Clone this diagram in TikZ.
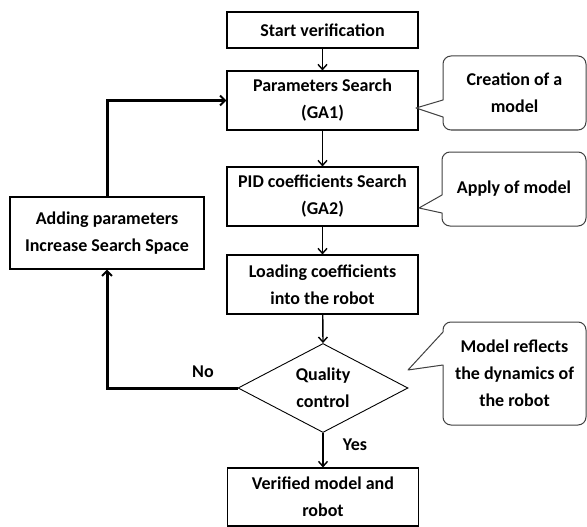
\documentclass[tikz,border=0pt]{standalone}
\usepackage{fontspec}
\setmainfont{Carlito}
\usetikzlibrary{arrows.meta,shapes.geometric}
\begin{document}
\begin{tikzpicture}[x=1pt,y=-1pt,
  every node/.style={font=\fontsize{18}{27}\selectfont\bfseries, align=center, inner sep=0pt},
  procbox/.style={draw, line width=1.1pt, minimum width=191pt},
  decbox/.style={diamond, draw, line width=0.9pt, minimum width=170pt, minimum height=89pt, aspect=1.91},
  flow/.style={line width=1.4pt, -{Straight Barb[length=5pt,width=9pt,line width=1.4pt]}},
  loopline/.style={line width=3pt, -{Straight Barb[length=5pt,width=10pt,line width=2pt]}},
  callline/.style={draw=black!75, line width=1pt, line join=round},
  lbl/.style={font=\fontsize{18}{27}\selectfont\bfseries}
]
\useasboundingbox (0,0) rectangle (587,527);
\node[procbox, minimum height=36pt] (start) at (322.5,30) {Start verification};
\node[procbox, minimum height=59pt] (params) at (322.5,100.5) {Parameters Search\\(GA1)};
\node[procbox, minimum height=59pt] (pid) at (322.5,196.5) {PID coefficients Search\\(GA2)};
\node[procbox, minimum height=59pt] (load) at (322.5,284.5) {Loading coefficients\\into the robot};
\node[decbox] (qc) at (323,388) {Quality\\control};
\node[procbox, minimum height=58pt] (ver) at (323,497) {Verified model and\\robot};
\node[procbox, minimum width=194pt, minimum height=72pt] (add) at (107,233) {Adding parameters\\Increase Search Space};

\draw[flow] (start) -- (params);
\draw[flow] (params) -- (pid);
\draw[flow] (pid) -- (load);
\draw[flow] (load) -- (qc.north);
\draw[flow] (qc.south) -- (ver);
\draw[loopline] (qc.west) -| (add.south);
\draw[loopline] (add.north) |- (params.west);
\node[lbl] (no) at (203,372) {No};
\node[lbl] (yes) at (355,445) {Yes};

% callouts
\draw[callline] (443,100) [rounded corners=8pt] -- (443,56) -- (586,56) -- (586,130) -- (443,130) [sharp corners] -- (443,117) -- (416,108) -- cycle;
\node (c1) at (514.5,93) {Creation of a\\model};
\draw[callline] (442,195) [rounded corners=8pt] -- (442,152) -- (586,152) -- (586,226) -- (442,226) [sharp corners] -- (442,213) -- (419,208) -- cycle;
\node (c2) at (514,189) {Apply of model};
\draw[callline] (443,332) [rounded corners=8pt] -- (443,322) -- (586,322) -- (586,425) -- (443,425) [sharp corners] -- (443,365) -- (408,370) -- cycle;
\node (c3) at (514.5,373.5) {Model reflects\\the dynamics of\\the robot};
\end{tikzpicture}
\end{document}
